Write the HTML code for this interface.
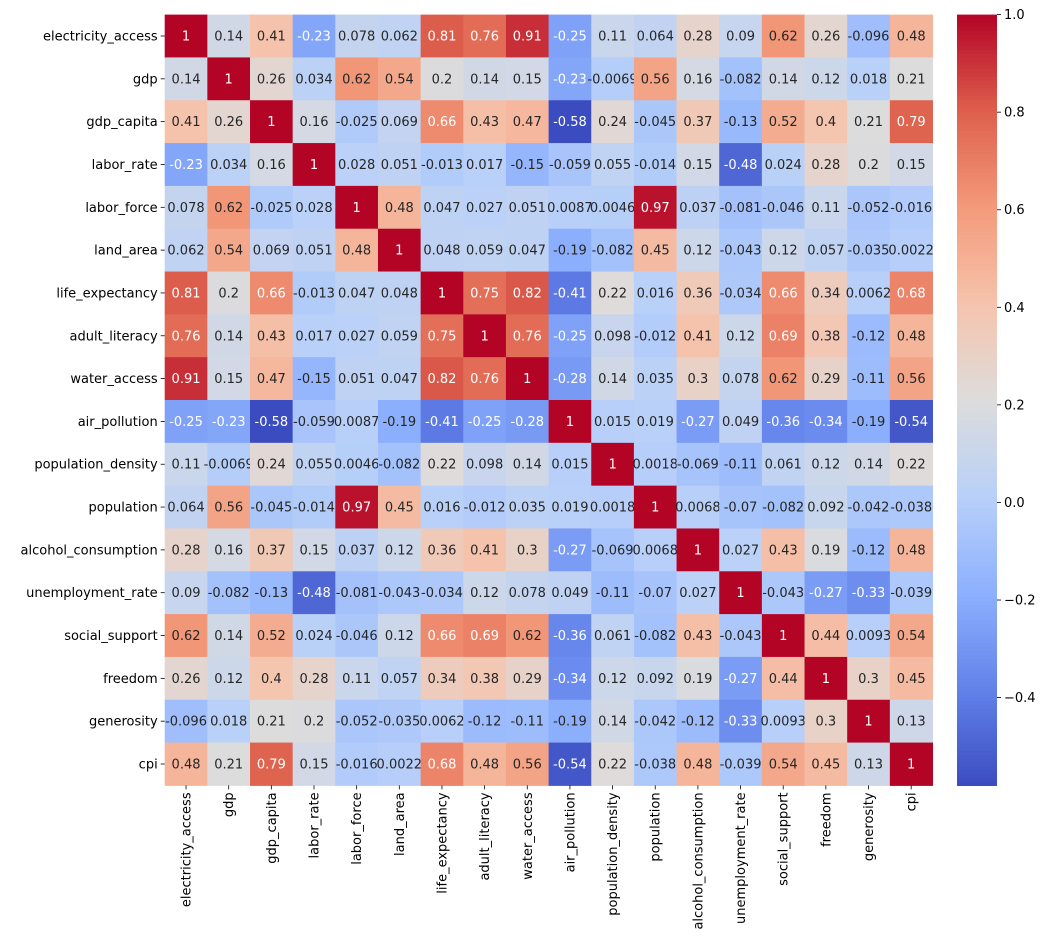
<!DOCTYPE html>
<html><head><meta charset="utf-8"><style>
html,body{margin:0;padding:0;background:#fff;}
svg{display:block;font-family:"DejaVu Sans","Liberation Sans",sans-serif;}
</style></head><body>
<svg id="chart" width="1048" height="951" viewBox="0 0 1048 951" xmlns="http://www.w3.org/2000/svg"></svg>
<script>
const labels = ["electricity_access","gdp","gdp_capita","labor_rate","labor_force","land_area","life_expectancy","adult_literacy","water_access","air_pollution","population_density","population","alcohol_consumption","unemployment_rate","social_support","freedom","generosity","cpi"];
const row0 = [1,.14,.41,-.23,.078,.062,.81,.76,.91,-.25,.11,.064,.28,.09,.62,.26,-.096,.48];
const row1 = [.14,1,.26,.034,.62,.54,.2,.14,.15,-.23,-.0069,.56,.16,-.082,.14,.12,.018,.21];
const row2 = [.41,.26,1,.16,-.025,.069,.66,.43,.47,-.58,.24,-.045,.37,-.13,.52,.4,.21,.79];
const row3 = [-.23,.034,.16,1,.028,.051,-.013,.017,-.15,-.059,.055,-.014,.15,-.48,.024,.28,.2,.15];
const row4 = [.078,.62,-.025,.028,1,.48,.047,.027,.051,.0087,.0046,.97,.037,-.081,-.046,.11,-.052,-.016];
const row5 = [.062,.54,.069,.051,.48,1,.048,.059,.047,-.19,-.082,.45,.12,-.043,.12,.057,-.035,.0022];
const row6 = [.81,.2,.66,-.013,.047,.048,1,.75,.82,-.41,.22,.016,.36,-.034,.66,.34,.0062,.68];
const row7 = [.76,.14,.43,.017,.027,.059,.75,1,.76,-.25,.098,-.012,.41,.12,.69,.38,-.12,.48];
const row8 = [.91,.15,.47,-.15,.051,.047,.82,.76,1,-.28,.14,.035,.3,.078,.62,.29,-.11,.56];
const row9 = [-.25,-.23,-.58,-.059,.0087,-.19,-.41,-.25,-.28,1,.015,.019,-.27,.049,-.36,-.34,-.19,-.54];
const row10 = [.11,-.0069,.24,.055,.0046,-.082,.22,.098,.14,.015,1,.0018,-.069,-.11,.061,.12,.14,.22];
const row11 = [.064,.56,-.045,-.014,.97,.45,.016,-.012,.035,.019,.0018,1,.0068,-.07,-.082,.092,-.042,-.038];
const row12 = [.28,.16,.37,.15,.037,.12,.36,.41,.3,-.27,-.069,.0068,1,.027,.43,.19,-.12,.48];
const row13 = [.09,-.082,-.13,-.48,-.081,-.043,-.034,.12,.078,.049,-.11,-.07,.027,1,-.043,-.27,-.33,-.039];
const row14 = [.62,.14,.52,.024,-.046,.12,.66,.69,.62,-.36,.061,-.082,.43,-.043,1,.44,.0093,.54];
const row15 = [.26,.12,.4,.28,.11,.057,.34,.38,.29,-.34,.12,.092,.19,-.27,.44,1,.3,.45];
const row16 = [-.096,.018,.21,.2,-.052,-.035,.0062,-.12,-.11,-.19,.14,-.042,-.12,-.33,.0093,.3,1,.13];
const row17 = [.48,.21,.79,.15,-.016,.0022,.68,.48,.56,-.54,.22,-.038,.48,-.039,.54,.45,.13,1];
const matrix = [row0,row1,row2,row3,row4,row5,row6,row7,row8,row9,row10,row11,row12,row13,row14,row15,row16,row17];
const cbTicks = [1.0,0.8,0.6,0.4,0.2,0.0,-0.2,-0.4];

const NS="http://www.w3.org/2000/svg";
const svg=document.getElementById('chart');
const L=164.7,T=14.6,R=932.5,B=785.4;
const n=labels.length, cw=(R-L)/n, ch=(B-T)/n;
const vmin=Math.min(...matrix.flat()), vmax=1;
const stops=[[59,76,192],[98,130,234],[141,176,254],[184,208,249],[221,220,220],[245,196,173],[244,154,123],[222,96,77],[180,4,38]];
function cmap(v){let t=(v-vmin)/(vmax-vmin);t=Math.max(0,Math.min(1,t));const p=t*8,i=Math.min(7,Math.floor(p)),f=p-i;
 return stops[i].map((c,k)=>c+(stops[i+1][k]-c)*f);}
function rgb(c){return `rgb(${c.map(Math.round).join(',')})`;}
function lum(c){const l=c.map(x=>{x/=255;return x<=0.03928?x/12.92:Math.pow((x+0.055)/1.055,2.4)});return .2126*l[0]+.7152*l[1]+.0722*l[2];}
function el(tag,attrs){const e=document.createElementNS(NS,tag);for(const k in attrs)e.setAttribute(k,attrs[k]);return e;}
function xs(j){return L+j*cw;} function ys(i){return T+i*ch;}

for(let i=0;i<n;i++)for(let j=0;j<n;j++){
 const v=matrix[i][j],c=cmap(v);
 const r=el('rect',{x:xs(j),y:ys(i),width:cw+0.5,height:ch+0.5,fill:rgb(c)});
 
 
 svg.appendChild(r);
 const t=el('text',{x:xs(j)+cw/2,y:ys(i)+ch/2+4.5,'text-anchor':'middle','font-size':'13',fill:lum(c)>0.408?'#262626':'#fff'});
 t.textContent=Number(v.toPrecision(2)).toString();
 
 
 svg.appendChild(t);
}
labels.forEach((lab,i)=>{
 const yc=ys(i)+ch/2;
 svg.appendChild(el('line',{x1:L-4,x2:L,y1:yc,y2:yc,stroke:'#000','stroke-width':0.8}));
 const t=el('text',{x:L-7,y:yc+4.5,'text-anchor':'end','font-size':'13',fill:'#000'});
 t.textContent=lab;
 
 
 svg.appendChild(t);
 const xc=xs(i)+cw/2;
 svg.appendChild(el('line',{x1:xc,x2:xc,y1:B,y2:B+4,stroke:'#000','stroke-width':0.8}));
 const tx=el('text',{x:0,y:0,'text-anchor':'end','font-size':'13',fill:'#000',transform:`translate(${xc+4.5},${B+7}) rotate(-90)`});
 tx.textContent=lab;
 
 
 svg.appendChild(tx);
});
const cbX=957,cbW=40,cbT=14.6,cbB=785.4;
function cy(v){return cbB-(v-vmin)/(vmax-vmin)*(cbB-cbT);}
const g=el('g',{});


svg.appendChild(g);
for(let k=0;k<200;k++){
 const v0=vmin+(vmax-vmin)*k/200,v1=vmin+(vmax-vmin)*(k+1)/200;
 g.appendChild(el('rect',{x:cbX,y:cy(v1),width:cbW,height:cy(v0)-cy(v1)+0.6,fill:rgb(cmap((v0+v1)/2))}));
}
cbTicks.forEach(v=>{
 const y=cy(v);
 g.appendChild(el('line',{x1:cbX+cbW,x2:cbX+cbW+4,y1:y,y2:y,stroke:'#000','stroke-width':0.8}));
 const t=el('text',{x:cbX+cbW+7,y:y+4.5,'font-size':'13',fill:'#000'});
 t.textContent=(v<0?'\u2212':'')+Math.abs(v).toFixed(1);
 
 
 g.appendChild(t);
});
</script>
</body></html>
